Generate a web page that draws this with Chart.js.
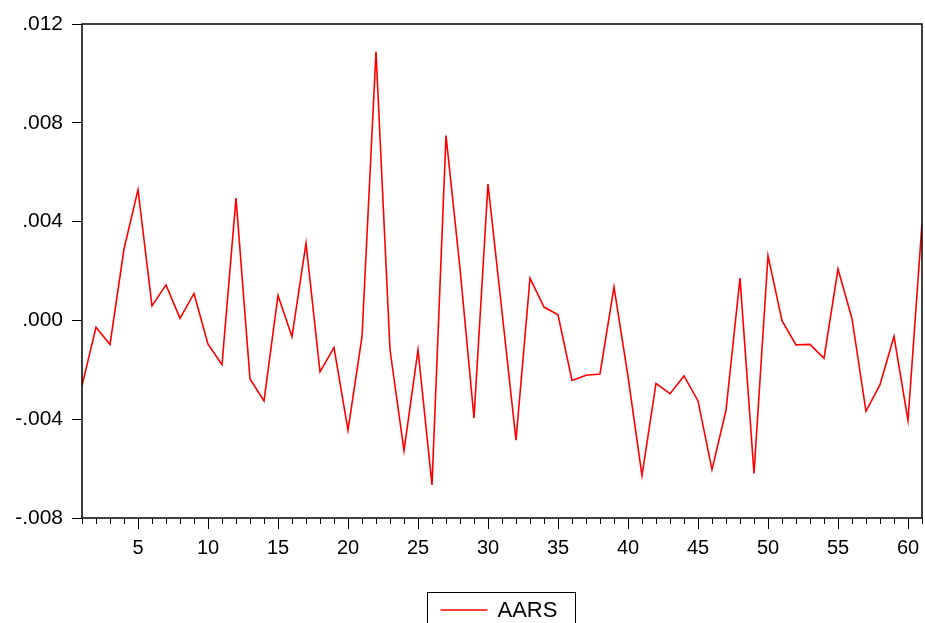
<!DOCTYPE html>
<html>
<head>
<meta charset="utf-8">
<title>AARS</title>
<script src="https://cdn.jsdelivr.net/npm/chart.js@4.4.1/dist/chart.umd.min.js"></script>
<style>
    html, body { margin: 0; padding: 0; background: #ffffff; }
    #wrap { width: 925px; height: 623px; }
</style>
</head>
<body>
<div id="wrap"><canvas id="aarsChart" width="925" height="623"></canvas></div>
<script>
// Event-window periods and the average abnormal return series
const periods = Array.from({ length: 61 }, (_, i) => i + 1);
const aars = [
    -0.00264, -0.00028, -0.00098, 0.00289, 0.00529, 0.00059, 0.00144, 0.00008, 0.00109, -0.00096,
    -0.00179, 0.00495, -0.00237, -0.00326, 0.00101, -0.00066, 0.00312, -0.00208, -0.00110, -0.00444,
    -0.00066, 0.01088, -0.00119, -0.00527, -0.00119, -0.00666, 0.00748, 0.00210, -0.00395, 0.00552,
    0.00035, -0.00485, 0.00171, 0.00054, 0.00023, -0.00243, -0.00222, -0.00217, 0.00135, -0.00227,
    -0.00628, -0.00255, -0.00297, -0.00225, -0.00326, -0.00604, -0.00364, 0.00171, -0.00620, 0.00262,
    -0.00001, -0.00099, -0.00097, -0.00154, 0.00208, 0.00007, -0.00368, -0.00260, -0.00065, -0.00405,
    0.00391
];
const yTicks = [-0.008, -0.004, 0.000, 0.004, 0.008, 0.012];
const xMajorTicks = [5, 10, 15, 20, 25, 30, 35, 40, 45, 50, 55, 60];
const seriesName = 'AARS';
const lineColor = '#ff0000';

Chart.defaults.font.family = '"Liberation Sans", Arial, sans-serif';
Chart.defaults.font.size = 20;
Chart.defaults.color = '#000000';

// EViews style number format: .012, -.004, .000
function formatTick(v) {
    const n = Math.round(v * 1000);
    return (n < 0 ? '-' : '') + '.' + String(Math.abs(n)).padStart(3, '0');
}

// Minor ticks every period, longer ones every five, plus the box round the plot
const framePlugin = {
    id: 'frame',
    afterDraw(chart) {
        const ctx = chart.ctx;
        const area = chart.chartArea;
        const x = chart.scales.x;

        ctx.save();
        ctx.strokeStyle = '#000000';
        ctx.lineWidth = 1;
        ctx.beginPath();
        periods.forEach(p => {
            const px = Math.round(x.getPixelForValue(p)) + 0.5;
            const len = xMajorTicks.includes(p) ? 11 : 6;
            ctx.moveTo(px, area.bottom);
            ctx.lineTo(px, area.bottom + len);
        });
        ctx.stroke();

        ctx.lineWidth = 1.5;
        ctx.strokeRect(area.left, area.top, area.right - area.left, area.bottom - area.top);

        // legend box under the plot
        const cx = (area.left + area.right) / 2;
        const boxW = 148;
        const boxLeft = Math.round(cx - boxW / 2) - 0.5;
        const boxTop = 592.5;
        ctx.lineWidth = 1;
        ctx.strokeRect(boxLeft, boxTop, boxW, 60);

        const ly = 610;
        ctx.strokeStyle = lineColor;
        ctx.lineWidth = 1.5;
        ctx.beginPath();
        ctx.moveTo(boxLeft + 13, ly);
        ctx.lineTo(boxLeft + 60, ly);
        ctx.stroke();

        ctx.fillStyle = '#000000';
        ctx.font = '22px "Liberation Sans", Arial, sans-serif';
        ctx.textBaseline = 'alphabetic';
        ctx.textAlign = 'left';
        ctx.fillText(seriesName, boxLeft + 70, 617);
        ctx.restore();
    }
};

new Chart(document.getElementById('aarsChart'), {
    type: 'line',
    data: {
        datasets: [{
            label: seriesName,
            data: periods.map((p, i) => ({ x: p, y: aars[i] })),
            borderColor: lineColor,
            borderWidth: 1.6,
            pointRadius: 0,
            tension: 0,
            fill: false
        }]
    },
    options: {
        responsive: false,
        devicePixelRatio: 1,
        animation: false,
        layout: {
            padding: { top: 24, right: 3, left: 0, bottom: 0 }
        },
        plugins: {
            legend: { display: false },
            tooltip: { enabled: false }
        },
        scales: {
            x: {
                type: 'linear',
                min: 1,
                max: 61,
                grid: { display: false, drawTicks: false },
                border: { display: false },
                ticks: {
                    stepSize: 1,
                    autoSkip: false,
                    maxRotation: 0,
                    padding: 18,
                    font: { size: 20 },
                    callback: v => xMajorTicks.includes(v) ? String(v) : ''
                },
                afterFit: scale => {
                    scale.height = 105;
                    scale.paddingLeft = 0;
                    scale.paddingRight = 0;
                }
            },
            y: {
                min: yTicks[0],
                max: yTicks[yTicks.length - 1],
                afterBuildTicks: scale => {
                    scale.ticks = yTicks.map(v => ({ value: v }));
                },
                grid: {
                    drawOnChartArea: false,
                    tickLength: 10,
                    color: '#000000'
                },
                border: { display: false },
                ticks: {
                    padding: 9,
                    font: { size: 21 },
                    callback: v => formatTick(v)
                },
                afterFit: scale => { scale.width = 82; }
            }
        }
    },
    plugins: [framePlugin]
});
</script>
</body>
</html>
